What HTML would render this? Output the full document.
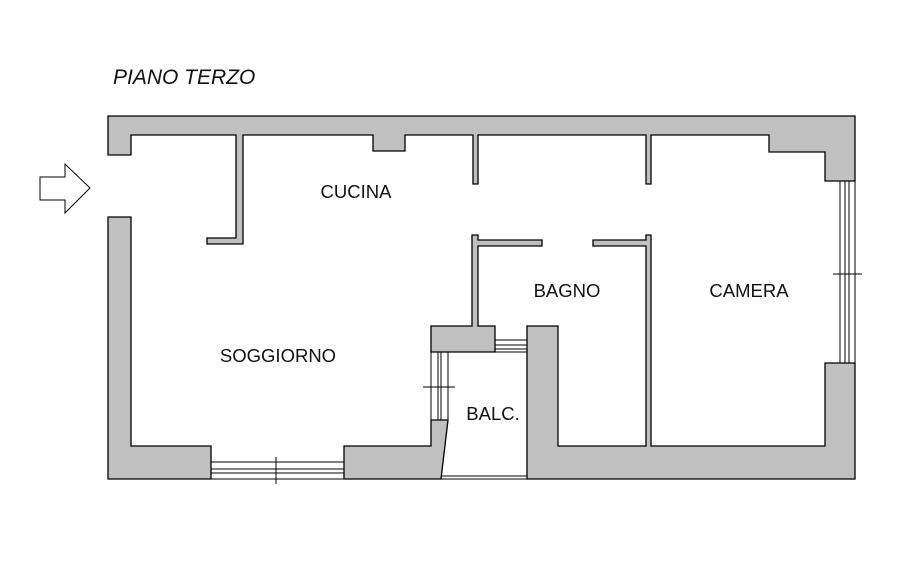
<!DOCTYPE html>
<html><head><meta charset="utf-8"><style>
html,body{margin:0;padding:0;background:#fff;}
svg{display:block;}
text{font-family:"Liberation Sans",Arial,sans-serif;fill:#111;}
</style></head><body>
<svg width="921" height="579" viewBox="0 0 921 579" xmlns="http://www.w3.org/2000/svg">
<rect width="921" height="579" fill="#fff"/>
<g fill="#c0c0c0" stroke="#000" stroke-width="1.3" stroke-linejoin="miter">
<polygon points="108,155 108,116 855,116 855,181 825,181 825,152 769,152 769,135 651,135 651,184 646,184 646,135 478,135 478,184 473,184 473,135 405,135 405,151 373,151 373,135 243,135 243,244 207,244 207,238 236,238 236,135 131,135 131,155"/>
<polygon points="108,217 131,217 131,446 211,446 211,479 108,479"/>
<polygon points="344,446 431,446 431,420 448,420 441,479 344,479"/>
<polygon points="431,326 472,326 472,235 478,235 478,240 542,240 542,246 478,246 478,326 495,326 495,352 431,352"/>
<polygon points="527,326 558,326 558,446 646,446 646,246 593,246 593,240 646,240 646,235 651,235 651,446 825,446 825,363 855,363 855,479 527,479"/>
</g>
<g stroke="#000" stroke-width="1" fill="none">
<line x1="211" y1="462" x2="344" y2="462"/>
<line x1="211" y1="469" x2="344" y2="469"/>
<line x1="211" y1="473" x2="344" y2="473"/>
<line x1="211" y1="479" x2="344" y2="479"/>
<line x1="276" y1="457" x2="276" y2="484"/>
<line x1="431" y1="352" x2="431" y2="420"/>
<line x1="438" y1="352" x2="438" y2="420"/>
<line x1="441" y1="352" x2="441" y2="420"/>
<line x1="448" y1="352" x2="448" y2="420"/>
<line x1="423" y1="387" x2="455" y2="387"/>
<line x1="495" y1="340" x2="527" y2="340"/>
<line x1="495" y1="345" x2="527" y2="345"/>
<line x1="495" y1="349" x2="527" y2="349"/>
<line x1="495" y1="352" x2="527" y2="352"/>
<line x1="441" y1="476" x2="527" y2="476"/>
<line x1="441" y1="479" x2="527" y2="479"/>
<line x1="840" y1="181" x2="840" y2="363"/>
<line x1="845" y1="181" x2="845" y2="363"/>
<line x1="849" y1="181" x2="849" y2="363"/>
<line x1="855" y1="181" x2="855" y2="363"/>
<line x1="833" y1="274" x2="862" y2="274"/>
<polygon points="40,177 65,177 65,164 90,188 65,213 65,200 40,200"/>
</g>
<text x="113" y="84" font-size="21" font-style="italic">PIANO TERZO</text>
<text x="356" y="198" font-size="18.5" text-anchor="middle">CUCINA</text>
<text x="567" y="297" font-size="18.5" text-anchor="middle">BAGNO</text>
<text x="749" y="297" font-size="18.5" text-anchor="middle">CAMERA</text>
<text x="278" y="362" font-size="18.5" text-anchor="middle">SOGGIORNO</text>
<text x="493" y="420" font-size="18.5" text-anchor="middle">BALC.</text>
</svg>
</body></html>
